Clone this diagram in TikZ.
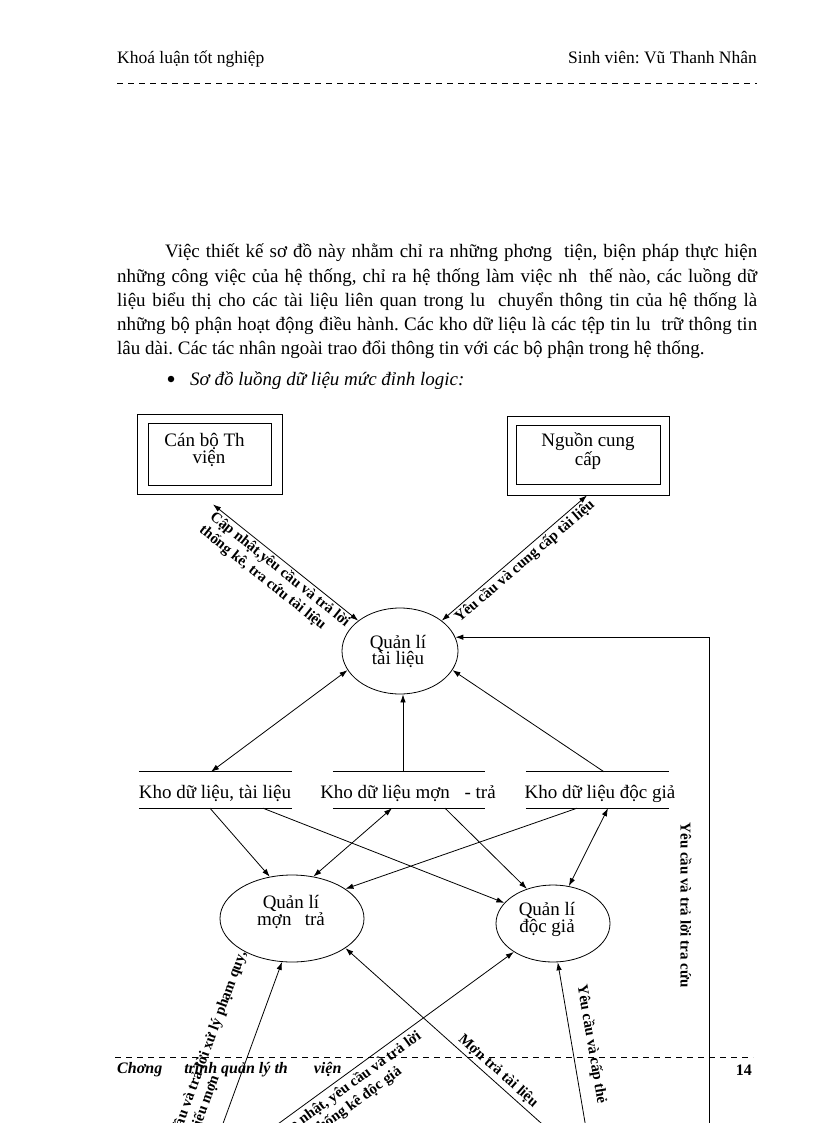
\documentclass[tikz,border=0pt]{standalone}
\usepackage{fontspec}
\setmainfont{Liberation Serif}
\usetikzlibrary{arrows.meta,shapes.geometric}
\frenchspacing
\begin{document}
\begin{tikzpicture}[x=1pt,y=-1pt,
  >={Latex[length=8pt,width=5.5pt]},
  conn/.style={line width=0.8pt},
  thinl/.style={line width=0.8pt},
  dashline/.style={line width=0.8pt,dash pattern=on 6pt off 5pt},
  hdr/.style={font=\fontsize{17.5}{20}\selectfont, inner sep=0pt},
  body/.style={font=\fontsize{19}{24}\selectfont, inner sep=0pt},
  dtext/.style={font=\fontsize{19}{16.5}\selectfont, inner sep=0pt, align=center},
  lbl/.style={font=\bfseries\fontsize{15}{17}\selectfont, inner sep=2pt},
  ftr/.style={font=\bfseries\itshape\fontsize{16}{18}\selectfont, inner sep=0pt},
  outerbox/.style={draw, line width=0.8pt, rectangle, inner sep=0pt},
  proc/.style={draw, line width=0.8pt, ellipse, inner sep=0pt},
  store/.style={rectangle, inner sep=0pt, minimum height=36pt}
]
\useasboundingbox (0,0) rectangle (816,1123);
\clip (0,0) rectangle (816,1123);

% header
\node[hdr, anchor=base west] (h1) at (117,64) {Khoá luận tốt nghiệp};
\node[hdr, anchor=base east] (h2) at (757,64) {Sinh viên: Vũ Thanh Nhân};
\draw[dashline] (117,83.5) -- (757,83.5);

% paragraph
\node[body, anchor=base west] (p1) at (165,258) {\makebox[592pt][s]{Việc thiết kế sơ đồ này nhằm chỉ ra những phơng\ \ tiện, biện pháp thực hiện}};
\node[body, anchor=base west] (p2) at (117,282) {\makebox[640pt][s]{những công việc của hệ thống, chỉ ra hệ thống làm việc nh\ \ thế nào, các luồng dữ}};
\node[body, anchor=base west] (p3) at (117,306) {\makebox[640pt][s]{liệu biểu thị cho các tài liệu liên quan trong lu\ \ chuyển thông tin của hệ thống là}};
\node[body, anchor=base west] (p4) at (117,330) {\makebox[640pt][s]{những bộ phận hoạt động điều hành. Các kho dữ liệu là các tệp tin lu\ \ trữ thông tin}};
\node[body, anchor=base west] (p5) at (117,354) {lâu dài. Các tác nhân ngoài trao đổi thông tin với các bộ phận trong hệ thống.};
\node[circle, fill, inner sep=0pt, minimum size=6.5pt] (bul) at (171,379) {};
\node[body, anchor=base west, font=\itshape\fontsize{19}{24}\selectfont] (p6) at (190,385) {Sơ đồ luồng dữ liệu mức đỉnh logic:};

% external entities
\node[outerbox, minimum width=145pt, minimum height=80pt] (cb) at (209.5,454) {};
\draw[thinl] ([shift={(12pt,-10pt)}]cb.north west) rectangle ([shift={(-11pt,9pt)}]cb.south east);
\node[dtext] (cbt) at (209,450) {Cán bộ Th\hspace*{9pt}\\viện};

\node[outerbox, minimum width=162pt, minimum height=79pt] (ng) at (588,455.5) {};
\draw[thinl] ([shift={(10pt,-10pt)}]ng.north west) rectangle ([shift={(-9pt,11pt)}]ng.south east);
\node[dtext] (ngt) at (588,451) {Nguồn cung\\cấp};

% processes
\node[proc, minimum width=116pt, minimum height=86pt] (tl) at (400,651) {};
\node[dtext] (tlt) at (398,651.5) {Quản lí\\tài liệu};
\node[proc, minimum width=144pt, minimum height=87pt] (mt) at (292,918.5) {};
\node[dtext] (mtt) at (291,912) {Quản lí\\mợn\hspace{8.5pt} trả};
\node[proc, minimum width=114pt, minimum height=77pt] (dg) at (553,923.5) {};
\node[dtext] (dgt) at (547,919.5) {Quản lí\\độc giả};

% data stores
\node[store, minimum width=153pt] (s1) at (215.5,790) {};
\node[store, minimum width=152pt] (s2) at (409,790) {};
\node[store, minimum width=143pt] (s3) at (597.5,790) {};
\draw[thinl] (s1.north west) -- (s1.north east) (s1.south west) -- (s1.south east);
\draw[thinl] (s2.north west) -- (s2.north east) (s2.south west) -- (s2.south east);
\draw[thinl] (s3.north west) -- (s3.north east) (s3.south west) -- (s3.south east);
\node[dtext, anchor=base] (s1t) at (215,798) {Kho dữ liệu, tài liệu};
\node[dtext, anchor=base] (s2t) at (408,798) {Kho dữ liệu mợn\hspace{10pt} - trả};
\node[dtext, anchor=base] (s3t) at (600,798) {Kho dữ liệu độc giả};

% connectors top
\draw[<->, conn] ([xshift=3.5pt,yshift=-10pt]cb.south) -- (tl.144)
  node[lbl, pos=0.5, sloped, below, align=left] (l1) {Cập nhật,yêu cầu và trả lời\\thống kê, tra cứu tài liệu};
\draw[<->, conn] (tl.36) -- ([xshift=-1pt]ng.south)
  node[lbl, pos=0.53, sloped, below] (l2) {Yêu cầu và cung cấp tài liệu};
\draw[<->, conn] ([xshift=-4.5pt]s1.north) -- (tl.200);
\draw[->, conn] ([xshift=-6pt]s2.north) -- ([xshift=-6pt]s2.north |- tl.south);
\draw[->, conn] ([xshift=6.5pt]s3.north) -- (tl.340);

% feedback
\coordinate (fb) at (709,1140);
\draw[->, conn] (fb) |- (tl.14);
\node[lbl, rotate=-90] (l6) at (686,905) {Yêu cầu và trả lời tra cứu};

% stores to lower processes
\draw[->, conn] ([xshift=-5.5pt]s1.south) -- (mt.118);
\draw[->, conn] ([xshift=47.5pt]s1.south) -- (dg.157);
\draw[<->, conn] ([xshift=-17pt]s2.south) -- (mt.63);
\draw[->, conn] ([xshift=36pt]s2.south) -- (dg.127);
\draw[->, conn] ([xshift=-20.5pt]s3.south) -- (mt.29);
\draw[<->, conn] ([xshift=10.5pt]s3.south) -- (dg.67);

% bottom connectors
\coordinate (b1) at (217,1140);
\coordinate (b2) at (256,1140);
\coordinate (b3) at (560,1140);
\coordinate (b4) at (588,1140);
\draw[->, conn] (b1) -- (mt.257)
  node[lbl, pos=0.98, sloped, anchor=south east, inner xsep=0pt, inner ysep=16pt, align=left] (l13) {Yêu cầu và trả lời xử lý phạm quy,\\DS, phiếu mợn};
\draw[->, conn] (b2) -- (dg.216)
  node[lbl, pos=0.33, sloped, below, inner ysep=4pt, align=center] (l14) {Cập nhật, yêu cầu và trả lời\\thống kê độc giả};
\draw[<-, conn] (mt.331) -- (b3)
  node[lbl, pos=0.68, sloped, above, inner ysep=3pt] (l15) {Mợn trả tài liệu};
\draw[<-, conn] (dg.277) -- (b4)
  node[lbl, pos=0.48, sloped, above, inner ysep=12pt] (l16) {Yêu cầu và cấp thẻ};

% footer
\draw[dashline] (115,1057) -- (753,1057);
\node[ftr, anchor=base west] (f1) at (117,1073) {Chơng\hspace{18pt} trình quản lý th\hspace{22pt} viện};
\node[ftr, anchor=base east, font=\bfseries\fontsize{16}{18}\selectfont] (f2) at (752,1075) {14};
\end{tikzpicture}
\end{document}
